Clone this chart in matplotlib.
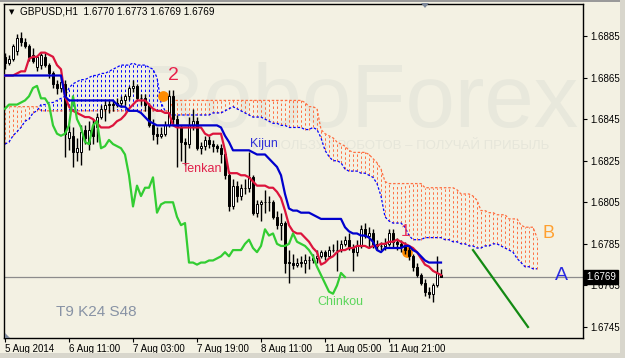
import numpy as np
import matplotlib.pyplot as plt
from matplotlib.patches import Rectangle, Polygon

plt.rcParams['font.family'] = ['Liberation Sans', 'DejaVu Sans']

# GBPUSD H1, 5-12 Aug 2014, one value per bar (bar 0 = 5 Aug 19:00)
opens = [1.6875, 1.6872, 1.6874, 1.6878, 1.6884, 1.6882, 1.6880, 1.6876, 1.6870, 1.6871,
         1.6875, 1.6871, 1.6867, 1.6862, 1.6860, 1.6862, 1.6836, 1.6837, 1.6829, 1.6829,
         1.6840, 1.6833, 1.6842, 1.6841, 1.6846, 1.6850, 1.6852, 1.6852, 1.6852, 1.6853,
         1.6854, 1.6856, 1.6860, 1.6861, 1.6855, 1.6855, 1.6852, 1.6842, 1.6838, 1.6837,
         1.6838, 1.6842, 1.6856, 1.6845, 1.6841, 1.6834, 1.6833, 1.6842, 1.6844, 1.6831,
         1.6832, 1.6835, 1.6833, 1.6832, 1.6831, 1.6828, 1.6818, 1.6803, 1.6813, 1.6808,
         1.6812, 1.6812, 1.6817, 1.6800, 1.6804, 1.6805, 1.6805, 1.6805, 1.6798, 1.6794,
         1.6795, 1.6776, 1.6776, 1.6775, 1.6776, 1.6776, 1.6777, 1.6777, 1.6778, 1.6779,
         1.6781, 1.6779, 1.6782, 1.6782, 1.6782, 1.6785, 1.6787, 1.6783, 1.6781, 1.6784,
         1.6792, 1.6789, 1.6790, 1.6785, 1.6784, 1.6784, 1.6785, 1.6790, 1.6786, 1.6785,
         1.6784, 1.6782, 1.6779, 1.6774, 1.6770, 1.6766, 1.6762, 1.6761, 1.6765, 1.6770]
highs = [1.6877, 1.6876, 1.6881, 1.6886, 1.6887, 1.6884, 1.6881, 1.6879, 1.6876, 1.6877,
         1.6877, 1.6872, 1.6868, 1.6864, 1.6866, 1.6864, 1.6842, 1.6841, 1.6836, 1.6842,
         1.6842, 1.6844, 1.6845, 1.6848, 1.6852, 1.6854, 1.6854, 1.6854, 1.6855, 1.6856,
         1.6857, 1.6861, 1.6864, 1.6862, 1.6857, 1.6857, 1.6853, 1.6845, 1.6841, 1.6841,
         1.6844, 1.6859, 1.6859, 1.6847, 1.6842, 1.6836, 1.6846, 1.6850, 1.6846, 1.6834,
         1.6837, 1.6837, 1.6835, 1.6833, 1.6833, 1.6829, 1.6820, 1.6816, 1.6815, 1.6814,
         1.6816, 1.6829, 1.6818, 1.6806, 1.6806, 1.6811, 1.6808, 1.6806, 1.6801, 1.6800,
         1.6796, 1.6782, 1.6780, 1.6778, 1.6779, 1.6780, 1.6779, 1.6780, 1.6782, 1.6782,
         1.6782, 1.6784, 1.6785, 1.6787, 1.6787, 1.6789, 1.6790, 1.6785, 1.6787, 1.6794,
         1.6795, 1.6793, 1.6792, 1.6787, 1.6786, 1.6788, 1.6792, 1.6792, 1.6788, 1.6787,
         1.6786, 1.6784, 1.6780, 1.6776, 1.6771, 1.6768, 1.6764, 1.6766, 1.6779, 1.6773]
lows = [1.6869, 1.6871, 1.6873, 1.6876, 1.6880, 1.6879, 1.6873, 1.6872, 1.6868, 1.6869,
        1.6870, 1.6865, 1.6860, 1.6857, 1.6858, 1.6827, 1.6830, 1.6822, 1.6825, 1.6823,
        1.6833, 1.6830, 1.6833, 1.6834, 1.6845, 1.6844, 1.6848, 1.6849, 1.6851, 1.6851,
        1.6852, 1.6854, 1.6858, 1.6854, 1.6852, 1.6849, 1.6841, 1.6835, 1.6833, 1.6836,
        1.6837, 1.6841, 1.6842, 1.6822, 1.6825, 1.6823, 1.6831, 1.6840, 1.6830, 1.6828,
        1.6830, 1.6831, 1.6829, 1.6829, 1.6824, 1.6816, 1.6801, 1.6802, 1.6805, 1.6806,
        1.6809, 1.6810, 1.6799, 1.6798, 1.6796, 1.6800, 1.6801, 1.6797, 1.6792, 1.6787,
        1.6771, 1.6766, 1.6773, 1.6774, 1.6774, 1.6771, 1.6773, 1.6776, 1.6776, 1.6778,
        1.6777, 1.6778, 1.6781, 1.6772, 1.6781, 1.6784, 1.6782, 1.6772, 1.6779, 1.6783,
        1.6788, 1.6783, 1.6783, 1.6782, 1.6782, 1.6782, 1.6784, 1.6783, 1.6782, 1.6781,
        1.6780, 1.6777, 1.6772, 1.6769, 1.6765, 1.6760, 1.6759, 1.6757, 1.6764, 1.6769]
closes = [1.6872, 1.6874, 1.6880, 1.6884, 1.6882, 1.6880, 1.6875, 1.6873, 1.6875, 1.6876,
          1.6871, 1.6867, 1.6862, 1.6860, 1.6863, 1.6838, 1.6839, 1.6829, 1.6831, 1.6839,
          1.6836, 1.6840, 1.6837, 1.6846, 1.6850, 1.6852, 1.6852, 1.6852, 1.6853, 1.6854,
          1.6856, 1.6860, 1.6861, 1.6855, 1.6855, 1.6852, 1.6842, 1.6838, 1.6837, 1.6838,
          1.6842, 1.6856, 1.6845, 1.6841, 1.6834, 1.6833, 1.6842, 1.6844, 1.6831, 1.6832,
          1.6835, 1.6833, 1.6832, 1.6831, 1.6828, 1.6818, 1.6803, 1.6813, 1.6808, 1.6812,
          1.6812, 1.6817, 1.6800, 1.6804, 1.6805, 1.6805, 1.6805, 1.6798, 1.6794, 1.6795,
          1.6776, 1.6776, 1.6775, 1.6776, 1.6776, 1.6777, 1.6777, 1.6778, 1.6779, 1.6781,
          1.6779, 1.6782, 1.6782, 1.6782, 1.6785, 1.6787, 1.6783, 1.6781, 1.6784, 1.6792,
          1.6789, 1.6790, 1.6785, 1.6784, 1.6784, 1.6785, 1.6790, 1.6786, 1.6785, 1.6784,
          1.6782, 1.6779, 1.6774, 1.6770, 1.6766, 1.6762, 1.6761, 1.6765, 1.6771, 1.6769]

tenkan = [1.6866, 1.6866, 1.6866, 1.6867, 1.6868, 1.6868, 1.6874, 1.6875, 1.6875, 1.6877,
          1.6877, 1.6876, 1.6875, 1.6871, 1.6869, 1.6856, 1.6851, 1.6849, 1.6848, 1.6847,
          1.6846, 1.6846, 1.6845, 1.6843, 1.6841, 1.6841, 1.6841, 1.6842, 1.6844, 1.6845,
          1.6847, 1.6850, 1.6852, 1.6854, 1.6854, 1.6854, 1.6852, 1.6850, 1.6849, 1.6849,
          1.6848, 1.6848, 1.6842, 1.6841, 1.6841, 1.6841, 1.6841, 1.6841, 1.6841, 1.6841,
          1.6838, 1.6837, 1.6838, 1.6838, 1.6838, 1.6830, 1.6819, 1.6819, 1.6819, 1.6818,
          1.6818, 1.6817, 1.6815, 1.6813, 1.6813, 1.6813, 1.6812, 1.6812, 1.6810, 1.6807,
          1.6801, 1.6794, 1.6791, 1.6790, 1.6790, 1.6788, 1.6786, 1.6783, 1.6781, 1.6775,
          1.6776, 1.6778, 1.6779, 1.6781, 1.6782, 1.6782, 1.6783, 1.6783, 1.6784, 1.6784,
          1.6784, 1.6783, 1.6784, 1.6784, 1.6785, 1.6785, 1.6786, 1.6786, 1.6787, 1.6786,
          1.6785, 1.6784, 1.6783, 1.6781, 1.6778, 1.6775, 1.6774, 1.6772, 1.6771, 1.6770]
kijun = [1.6866, 1.6866, 1.6866, 1.6866, 1.6866, 1.6866, 1.6866, 1.6866, 1.6866, 1.6866,
         1.6866, 1.6866, 1.6866, 1.6866, 1.6866, 1.6856, 1.6854, 1.6854, 1.6854, 1.6854,
         1.6854, 1.6854, 1.6854, 1.6854, 1.6854, 1.6854, 1.6854, 1.6854, 1.6852, 1.6851,
         1.6851, 1.6849, 1.6849, 1.6849, 1.6848, 1.6846, 1.6844, 1.6843, 1.6842, 1.6842,
         1.6842, 1.6842, 1.6842, 1.6842, 1.6842, 1.6842, 1.6842, 1.6842, 1.6842, 1.6842,
         1.6842, 1.6842, 1.6842, 1.6842, 1.6841, 1.6837, 1.6834, 1.6830, 1.6830, 1.6830,
         1.6830, 1.6830, 1.6829, 1.6828, 1.6828, 1.6828, 1.6826, 1.6824, 1.6822, 1.6818,
         1.6809, 1.6802, 1.6801, 1.6801, 1.6800, 1.6800, 1.6800, 1.6799, 1.6798, 1.6797,
         1.6797, 1.6797, 1.6797, 1.6797, 1.6797, 1.6793, 1.6791, 1.6790, 1.6790, 1.6789,
         1.6789, 1.6788, 1.6786, 1.6782, 1.6781, 1.6783, 1.6783, 1.6783, 1.6783, 1.6783,
         1.6784, 1.6784, 1.6782, 1.6781, 1.6779, 1.6777, 1.6776, 1.6776, 1.6776, 1.6776]

# cloud edges, already shifted 24 bars ahead (134 positions)
span_a = [1.6851, 1.6851, 1.6851, 1.6851, 1.6851, 1.6851, 1.6851, 1.6851, 1.6851, 1.6849,
          1.6849, 1.6849, 1.6849, 1.6849, 1.6849, 1.6849, 1.6849, 1.6849, 1.6849, 1.6849,
          1.6849, 1.6849, 1.6849, 1.6849, 1.6849, 1.6849, 1.6849, 1.6849, 1.6849, 1.6849,
          1.6849, 1.6849, 1.6849, 1.6849, 1.6849, 1.6849, 1.6849, 1.6849, 1.6849, 1.6849,
          1.6849, 1.6849, 1.6854, 1.6854, 1.6854, 1.6854, 1.6854, 1.6854, 1.6854, 1.6854,
          1.6854, 1.6854, 1.6854, 1.6854, 1.6854, 1.6854, 1.6854, 1.6854, 1.6854, 1.6854,
          1.6854, 1.6854, 1.6854, 1.6854, 1.6854, 1.6854, 1.6854, 1.6854, 1.6854, 1.6854,
          1.6854, 1.6854, 1.6854, 1.6854, 1.6854, 1.6853, 1.6851, 1.6851, 1.6850, 1.6840,
          1.6838, 1.6837, 1.6836, 1.6834, 1.6833, 1.6832, 1.6830, 1.6829, 1.6829, 1.6829,
          1.6829, 1.6828, 1.6826, 1.6824, 1.6821, 1.6815, 1.6814, 1.6814, 1.6814, 1.6814,
          1.6814, 1.6814, 1.6814, 1.6814, 1.6814, 1.6812, 1.6812, 1.6812, 1.6812, 1.6812,
          1.6812, 1.6812, 1.6812, 1.6811, 1.6809, 1.6809, 1.6809, 1.6808, 1.6806, 1.6801,
          1.6801, 1.6800, 1.6800, 1.6799, 1.6799, 1.6799, 1.6797, 1.6797, 1.6797, 1.6794,
          1.6793, 1.6793, 1.6793, 1.6788]
span_b = [1.6833, 1.6834, 1.6837, 1.6839, 1.6841, 1.6844, 1.6845, 1.6848, 1.6849, 1.6852,
          1.6852, 1.6853, 1.6853, 1.6854, 1.6855, 1.6856, 1.6860, 1.6862, 1.6863, 1.6864,
          1.6864, 1.6865, 1.6866, 1.6866, 1.6867, 1.6867, 1.6868, 1.6869, 1.6870, 1.6871,
          1.6871, 1.6871, 1.6872, 1.6871, 1.6871, 1.6871, 1.6870, 1.6869, 1.6865, 1.6853,
          1.6849, 1.6847, 1.6847, 1.6847, 1.6847, 1.6847, 1.6847, 1.6847, 1.6847, 1.6847,
          1.6847, 1.6847, 1.6848, 1.6848, 1.6848, 1.6849, 1.6850, 1.6851, 1.6850, 1.6849,
          1.6848, 1.6847, 1.6846, 1.6846, 1.6846, 1.6845, 1.6844, 1.6843, 1.6843, 1.6842,
          1.6842, 1.6841, 1.6841, 1.6841, 1.6841, 1.6840, 1.6840, 1.6841, 1.6840, 1.6836,
          1.6830, 1.6827, 1.6825, 1.6825, 1.6824, 1.6821, 1.6820, 1.6820, 1.6820, 1.6819,
          1.6819, 1.6818, 1.6817, 1.6814, 1.6808, 1.6798, 1.6796, 1.6795, 1.6795, 1.6795,
          1.6793, 1.6789, 1.6787, 1.6787, 1.6787, 1.6788, 1.6788, 1.6788, 1.6788, 1.6788,
          1.6787, 1.6787, 1.6786, 1.6786, 1.6785, 1.6785, 1.6784, 1.6784, 1.6783, 1.6783,
          1.6784, 1.6784, 1.6785, 1.6785, 1.6784, 1.6783, 1.6782, 1.6781, 1.6778, 1.6776,
          1.6774, 1.6774, 1.6773, 1.6773]

chinkou_shift = 24
bid = 1.6769

tick_pos = [0, 16, 32, 48, 64, 80, 96]
tick_text = ['5 Aug 2014', '6 Aug 11:00', '7 Aug 03:00', '7 Aug 19:00',
             '8 Aug 11:00', '11 Aug 05:00', '11 Aug 21:00']
price_ticks = [1.6745, 1.6765, 1.6785, 1.6805, 1.6825, 1.6845, 1.6865, 1.6885]

# marked points (orange dots) and projected move (green line)
mark_x = [39.5, 100.5]
mark_y = [1.6856, 1.6781]
target_x = [117, 130.75]
target_y = [1.6782, 1.6745]

BG = '#f3f1e3'
ORANGE = '#ff6e40'
BLUE = '#0000ff'
FW, FH = 625, 358


def fx(px):
    return px / FW


def fy(py):
    return 1 - py / FH


fig = plt.figure(figsize=(6.25, 3.58), dpi=100, facecolor=BG)
ax = fig.add_axes([4 / FW, 20 / FH, 579 / FW, 334 / FH])
ax.set_facecolor(BG)
ax.set_xlim(-0.25, 144.5)
ax.set_ylim(1.67397, 1.69004)

# watermark
ax.text(fx(140), fy(127), 'RoboForex', transform=fig.transFigure, fontsize=64,
        color='#e8e8dc', ha='left', va='baseline', zorder=0.2, clip_on=False)
ax.text(fx(252), fy(146), 'ИСПОЛЬЗУЙ РОБОТОВ – ПОЛУЧАЙ ПРИБЫЛЬ', transform=fig.transFigure,
        fontsize=9.5, color='#e6e6da', ha='left', va='center', zorder=0.2)

# cloud
sa = np.array(span_a)
sb = np.array(span_b)
k = np.arange(len(sa))
up = sa >= sb
ax.vlines(k[up], sb[up], sa[up], colors=ORANGE, linestyles=(0, (2.5, 2.5)), lw=0.7, zorder=1)
ax.vlines(k[~up], sa[~up], sb[~up], colors=BLUE, linestyles=(0, (2.5, 2.5)), lw=0.7, zorder=1)
ax.plot(k, sa, color=ORANGE, ls=(0, (2, 1.5)), lw=0.9, zorder=1.5)
ax.plot(k, sb, color=BLUE, ls=(0, (2, 1.5)), lw=0.9, zorder=1.5)

ax.axhline(bid, color='#8c8c8c', lw=0.9, zorder=2)

ax.scatter(mark_x, mark_y, s=60, color='#ff8c00', zorder=2.8, linewidths=0)

# candles
o = np.array(opens)
h = np.array(highs)
l = np.array(lows)
c = np.array(closes)
idx = np.arange(len(c))
bull = c > o
ax.vlines(idx, l, h, color='black', lw=1, zorder=3)
ax.bar(idx, np.maximum(np.abs(c - o), 0.00001), width=0.55, bottom=np.minimum(o, c),
       color=np.where(bull, 'white', 'black'), edgecolor='black', linewidth=0.7, zorder=3.2)

# ichimoku lines
ax.plot(idx, tenkan, color='#dc143c', lw=1.6, zorder=4)
ax.plot(idx, kijun, color='#0000cd', lw=1.6, zorder=4.1)
ax.plot(np.arange(len(c) - chinkou_shift), c[chinkou_shift:], color='#32cd32', lw=1.6, zorder=4)
ax.plot(target_x, target_y, color='#138a13', lw=1.6, zorder=4)

# labels on the chart
ax.text(fx(173), fy(75), '2', transform=fig.transFigure, fontsize=14, color='#e8214a',
        ha='center', va='center', zorder=5)
ax.text(fx(405), fy(231), '1', transform=fig.transFigure, fontsize=12, color='#e8305a',
        ha='center', va='center', zorder=5)
ax.text(fx(264), fy(144), 'Kijun', transform=fig.transFigure, fontsize=9, color='#3030d8',
        ha='center', va='center', zorder=5)
ax.text(fx(202), fy(169), 'Tenkan', transform=fig.transFigure, fontsize=9, color='#e0204a',
        ha='center', va='center', zorder=5)
ax.text(fx(340), fy(302), 'Chinkou', transform=fig.transFigure, fontsize=9, color='#5cd65c',
        ha='center', va='center', zorder=5)
ax.text(fx(96), fy(312), 'T9 K24 S48', transform=fig.transFigure, fontsize=11, color='#8893a5',
        ha='center', va='center', zorder=5)
ax.text(fx(561), fy(275), 'A', transform=fig.transFigure, fontsize=14, color='#2a2ae0',
        ha='center', va='center', zorder=5)
ax.text(fx(549), fy(233), 'B', transform=fig.transFigure, fontsize=13, color='#ffa030',
        ha='center', va='center', zorder=5)

# axes
for sp in ax.spines.values():
    sp.set_color('black')
    sp.set_linewidth(1)
ax.yaxis.tick_right()
ax.set_yticks(price_ticks)
ax.set_yticklabels([f'{p:.4f}' for p in price_ticks])
ax.set_xticks(tick_pos)
ax.set_xticklabels(tick_text)
for lbl in ax.get_xticklabels():
    lbl.set_ha('left')
ax.tick_params(axis='y', direction='out', length=3, width=0.8, labelsize=7, pad=2)
ax.tick_params(axis='x', direction='out', length=3, width=0.8, labelsize=7, pad=1.5)

# header and current price box
fig.text(fx(20), fy(12), 'GBPUSD,H1  1.6770 1.6773 1.6769 1.6769', fontsize=7.2,
         color='black', ha='left', va='center')
fig.text(fx(12), fy(12), '▼', fontsize=5, color='black', ha='center', va='center',
         family='DejaVu Sans')
fig.text(fx(586), fy(277), '1.6769', fontsize=7, color='white', ha='left', va='center',
         bbox=dict(facecolor='black', edgecolor='black', pad=1.2))

# window frame bits
fig.patches.append(Rectangle((0, fy(2)), 1, 2 / FH, transform=fig.transFigure,
                             facecolor='#9a9a9a', edgecolor='none'))
fig.patches.append(Rectangle((fx(620), 0), 5 / FW, 1, transform=fig.transFigure,
                             facecolor='#d8d6cc', edgecolor='none'))
fig.patches.append(Rectangle((0, 0), 1, 5 / FH, transform=fig.transFigure,
                             facecolor='#d8d6cc', edgecolor='none'))
fig.patches.append(Polygon([(fx(421), fy(3)), (fx(429), fy(3)), (fx(425), fy(8))],
                           closed=True, transform=fig.transFigure,
                           facecolor='#7c8799', edgecolor='none'))
fig.patches.append(Polygon([(fx(5), fy(333)), (fx(5), fy(338)), (fx(10), fy(338))],
                           closed=True, transform=fig.transFigure,
                           facecolor='#7c8799', edgecolor='none'))

fig.savefig('out.png', dpi=100, facecolor=BG)
